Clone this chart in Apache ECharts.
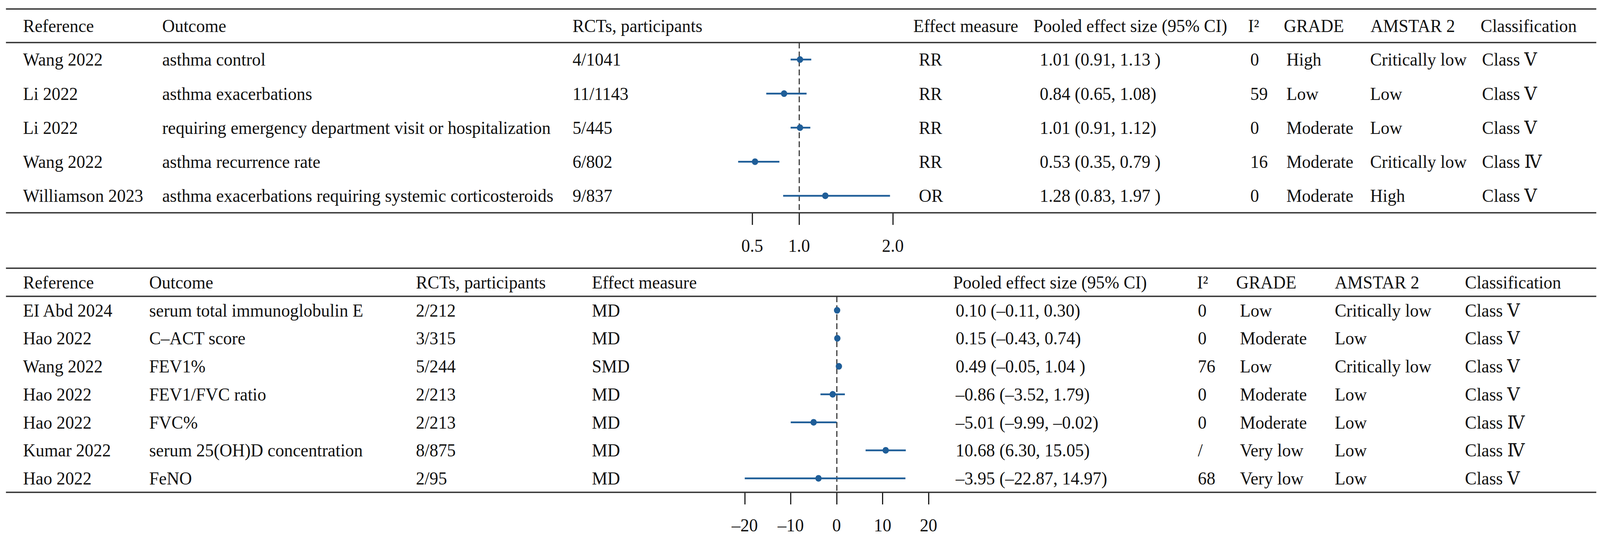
<!DOCTYPE html>
<html>
<head>
<meta charset="utf-8">
<title>Forest plot</title>
<script src="https://cdn.jsdelivr.net/npm/echarts@6/dist/echarts.min.js"></script>
<style>
html,body{margin:0;padding:0;background:#fff;overflow:hidden;}
#main{width:4301px;height:1378px;transform-origin:0 0;}
</style>
</head>
<body>
<div id="main"></div>
<script>
// ---- upper table: dichotomous outcomes ----
var refs1 = ['Wang 2022', 'Li 2022', 'Li 2022', 'Wang 2022', 'Williamson 2023'];
var outcomes1 = ['asthma control', 'asthma exacerbations', 'requiring emergency department visit or hospitalization', 'asthma recurrence rate', 'asthma exacerbations requiring systemic corticosteroids'];
var rcts1 = ['4/1041', '11/1143', '5/445', '6/802', '9/837'];
var measure1 = ['RR', 'RR', 'RR', 'RR', 'OR'];
var est1 = [1.01, 0.84, 1.01, 0.53, 1.28];
var lo1 = [0.91, 0.65, 0.91, 0.35, 0.83];
var hi1 = [1.13, 1.08, 1.12, 0.79, 1.97];
var pooled1 = ['1.01 (0.91, 1.13 )', '0.84 (0.65, 1.08)', '1.01 (0.91, 1.12)', '0.53 (0.35, 0.79 )', '1.28 (0.83, 1.97 )'];
var i2_1 = ['0', '59', '0', '16', '0'];
var grade1 = ['High', 'Low', 'Moderate', 'Moderate', 'Moderate'];
var amstar1 = ['Critically low', 'Low', 'Low', 'Critically low', 'High'];
var class1 = ['Class Ⅴ', 'Class Ⅴ', 'Class Ⅴ', 'Class Ⅳ', 'Class Ⅴ'];
var ticks1 = [0.5, 1.0, 2.0];
var headers1 = ['Reference', 'Outcome', 'RCTs, participants', 'Effect measure', 'Pooled effect size (95% CI)', 'I²', 'GRADE', 'AMSTAR 2', 'Classification'];

// ---- lower table: continuous outcomes ----
var refs2 = ['EI Abd 2024', 'Hao 2022', 'Wang 2022', 'Hao 2022', 'Hao 2022', 'Kumar 2022', 'Hao 2022'];
var outcomes2 = ['serum total immunoglobulin E', 'C–ACT score', 'FEV1%', 'FEV1/FVC ratio', 'FVC%', 'serum 25(OH)D concentration', 'FeNO'];
var rcts2 = ['2/212', '3/315', '5/244', '2/213', '2/213', '8/875', '2/95'];
var measure2 = ['MD', 'MD', 'SMD', 'MD', 'MD', 'MD', 'MD'];
var est2 = [0.10, 0.15, 0.49, -0.86, -5.01, 10.68, -3.95];
var lo2 = [-0.11, -0.43, -0.05, -3.52, -9.99, 6.30, -22.87];
var hi2 = [0.30, 0.74, 1.04, 1.79, -0.02, 15.05, 14.97];
var pooled2 = ['0.10 (–0.11, 0.30)', '0.15 (–0.43, 0.74)', '0.49 (–0.05, 1.04 )', '–0.86 (–3.52, 1.79)', '–5.01 (–9.99, –0.02)', '10.68 (6.30, 15.05)', '–3.95 (–22.87, 14.97)'];
var i2_2 = ['0', '0', '76', '0', '0', '/', '68'];
var grade2 = ['Low', 'Moderate', 'Low', 'Moderate', 'Moderate', 'Very low', 'Very low'];
var amstar2 = ['Critically low', 'Low', 'Critically low', 'Low', 'Low', 'Low', 'Low'];
var class2 = ['Class Ⅴ', 'Class Ⅴ', 'Class Ⅴ', 'Class Ⅴ', 'Class Ⅳ', 'Class Ⅳ', 'Class Ⅴ'];
var ticks2 = [-20, -10, 0, 10, 20];
var headers2 = headers1;

// ---- layout ----
var W = 4301, H = 1378;
var FONT = '"Liberation Serif", "Times New Roman", "DejaVu Serif", serif';
var FS = 47;
var INK = '#111';
var BLUE = '#1f5e98';
var RULE_X1 = 16, RULE_X2 = 4291;

var panels = [{
    cols: [refs1, outcomes1, rcts1, measure1, pooled1, i2_1, grade1, amstar1, class1],
    headers: headers1,
    headX: [62, 436, 1539, 2455, 2778, 3355, 3451, 3684, 3980],
    cellX: [62, 436, 1539, 2470, 2795, 3361, 3458, 3683, 3984],
    rules: [23, 109, 545],
    headY: 66,
    est: est1, lo: lo1, hi: hi1, ref: 1
}, {
    cols: [refs2, outcomes2, rcts2, measure2, pooled2, i2_2, grade2, amstar2, class2],
    headers: headers2,
    headX: [62, 401, 1118, 1591, 2562, 3218, 3323, 3588, 3938],
    cellX: [62, 401, 1118, 1591, 2569, 3220, 3333, 3588, 3938],
    rules: [687, 759, 1261],
    headY: 723,
    est: est2, lo: lo2, hi: hi2, ref: 0
}];

// the browser window may be narrower than the drawing; stretch it to fill
var box = document.getElementById('main');
var sx = window.innerWidth / W, sy = window.innerHeight / H;
if (Math.abs(sx - 1) > 0.001 || Math.abs(sy - 1) > 0.001) {
    box.style.transform = 'scale(' + sx + ',' + sy + ')';
}

var myChart = echarts.init(box, null, { renderer: 'svg' });

function fmtTick(v) {
    if (v < 0) return '–' + Math.abs(v);
    return String(v);
}

var graphics = [];
panels.forEach(function (p) {
    p.rules.forEach(function (y) {
        graphics.push({
            type: 'line', silent: true, z: 10,
            shape: { x1: RULE_X1, y1: y, x2: RULE_X2, y2: y },
            style: { stroke: '#333', lineWidth: 3.5 }
        });
    });
    p.headers.forEach(function (h, c) {
        graphics.push({
            type: 'text', silent: true, x: p.headX[c], y: p.headY,
            style: { text: h, fontSize: FS, fontFamily: FONT, fill: INK, align: 'left', verticalAlign: 'middle' }
        });
    });
});

var series = [];
panels.forEach(function (p, k) {
    // table cells, one row per category
    series.push({
        type: 'custom', xAxisIndex: k, yAxisIndex: k, silent: true, clip: false,
        data: p.est.map(function (e, i) { return [p.ref, i]; }),
        renderItem: function (params, api) {
            var y = api.coord([api.value(0), api.value(1)])[1];
            var row = params.dataIndex;
            return {
                type: 'group',
                children: p.cols.map(function (col, c) {
                    return {
                        type: 'text', x: p.cellX[c], y: y,
                        style: { text: col[row], fontSize: FS, fontFamily: FONT, fill: INK, align: 'left', verticalAlign: 'middle' }
                    };
                })
            };
        }
    });
    // point estimates with 95% CI
    series.push({
        type: 'custom', xAxisIndex: k, yAxisIndex: k, silent: true, clip: true, z: 5,
        data: p.est.map(function (e, i) { return [e, i, p.lo[i], p.hi[i]]; }),
        encode: { x: [0, 2, 3], y: 1 },
        renderItem: function (params, api) {
            var c = api.coord([api.value(0), api.value(1)]);
            var a = api.coord([api.value(2), api.value(1)]);
            var b = api.coord([api.value(3), api.value(1)]);
            return {
                type: 'group',
                children: [
                    { type: 'line', shape: { x1: a[0], y1: a[1], x2: b[0], y2: b[1] }, style: { stroke: BLUE, lineWidth: 4.5 } },
                    { type: 'circle', shape: { cx: c[0], cy: c[1], r: 8.5 }, style: { fill: BLUE } }
                ]
            };
        },
        markLine: {
            silent: true, symbol: 'none', z: 1,
            label: { show: false },
            lineStyle: { type: [15, 8], color: '#333', width: 3 },
            data: [{ xAxis: p.ref }]
        }
    });
});

function axisFor(k, min, max, ticks, fmt) {
    return {
        gridIndex: k, type: 'value', min: min, max: max,
        axisLine: { show: false },
        splitLine: { show: false },
        axisTick: { show: true, inside: false, length: 31, customValues: ticks, lineStyle: { color: INK, width: 3 } },
        axisLabel: { customValues: ticks, formatter: fmt, fontSize: FS, fontFamily: FONT, color: INK, margin: 84, verticalAlign: 'middle' }
    };
}

var option = {
    backgroundColor: '#fff',
    animation: false,
    grid: [
        { left: 1959, width: 441, top: 109, height: 436 },
        { left: 2002, width: 494, top: 759, height: 502 }
    ],
    xAxis: [
        axisFor(0, 0.25, 2.0, ticks1, function (v) { return v.toFixed(1); }),
        axisFor(1, -20, 20, ticks2, fmtTick)
    ],
    yAxis: [
        { gridIndex: 0, type: 'category', inverse: true, data: refs1.map(function (r, i) { return String(i); }), show: false },
        { gridIndex: 1, type: 'category', inverse: true, data: refs2.map(function (r, i) { return String(i); }), show: false }
    ],
    graphic: graphics,
    series: series
};

myChart.setOption(option);
</script>
</body>
</html>
